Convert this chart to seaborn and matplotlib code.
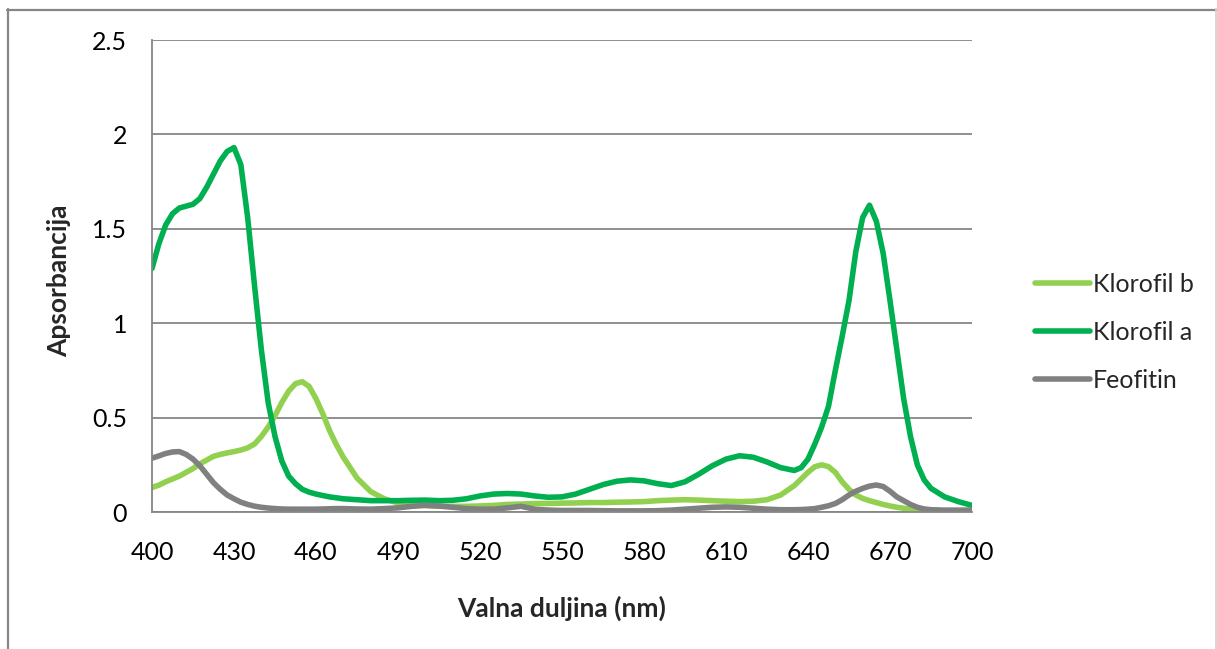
import matplotlib
matplotlib.use("Agg")
import matplotlib.pyplot as plt
from matplotlib.lines import Line2D
import seaborn as sns
import pandas as pd

wavelength = [400, 402.5, 405, 407.5, 410, 412.5, 415, 417.5, 420, 422.5, 425, 427.5, 430, 432.5, 435,
              437.5, 440, 442.5, 445, 447.5, 450, 452.5, 455, 457.5, 460, 462.5, 465, 467.5, 470,
              475, 480, 485, 490, 495, 500, 505, 510, 515, 520, 525, 530, 535, 540, 545, 550,
              555, 560, 565, 570, 575, 580, 585, 590, 595, 600, 605, 610, 615, 620, 625, 630, 635,
              637.5, 640, 642.5, 645, 647.5, 650, 652.5, 655, 657.5, 660, 662.5, 665, 667.5, 670,
              672.5, 675, 677.5, 680, 682.5, 685,
              690, 695, 700]

klorofil_a = [1.29, 1.42, 1.52, 1.58, 1.61, 1.62, 1.63, 1.66, 1.72, 1.79, 1.86, 1.91, 1.93, 1.84, 1.56,
              1.20, 0.86, 0.58, 0.40, 0.27, 0.19, 0.15, 0.12, 0.105, 0.095, 0.087, 0.08, 0.075, 0.07,
              0.065, 0.06, 0.06, 0.06, 0.062, 0.063, 0.06, 0.062, 0.07, 0.085, 0.095, 0.098, 0.095, 0.085, 0.078, 0.08,
              0.095, 0.12, 0.145, 0.163, 0.17, 0.165, 0.15, 0.14, 0.16, 0.20, 0.245, 0.28, 0.298, 0.29, 0.265, 0.235, 0.22,
              0.235, 0.28, 0.36, 0.45, 0.56, 0.75, 0.93, 1.12, 1.38, 1.56, 1.625, 1.54, 1.37, 1.12,
              0.86, 0.60, 0.40, 0.25, 0.17, 0.125,
              0.08, 0.055, 0.035]

klorofil_b = [0.13, 0.142, 0.16, 0.175, 0.19, 0.21, 0.23, 0.255, 0.275, 0.295, 0.305, 0.313, 0.32, 0.328, 0.34,
              0.36, 0.40, 0.45, 0.51, 0.58, 0.64, 0.68, 0.69, 0.665, 0.60, 0.52, 0.43, 0.355, 0.29,
              0.18, 0.108, 0.07, 0.048, 0.04, 0.035, 0.03, 0.03, 0.03, 0.032, 0.035, 0.04, 0.042, 0.045, 0.045, 0.047,
              0.048, 0.05, 0.05, 0.052, 0.053, 0.055, 0.06, 0.063, 0.065, 0.063, 0.06, 0.057, 0.055, 0.057, 0.065, 0.09, 0.14,
              0.175, 0.21, 0.24, 0.25, 0.24, 0.21, 0.16, 0.12, 0.09, 0.072, 0.06, 0.05, 0.04, 0.032,
              0.025, 0.02, 0.014, 0.01, 0.007, 0.005,
              0.004, 0.004, 0.004]

feofitin = [0.285, 0.297, 0.31, 0.318, 0.32, 0.305, 0.28, 0.245, 0.20, 0.155, 0.12, 0.09, 0.07, 0.052, 0.04,
            0.031, 0.025, 0.021, 0.018, 0.016, 0.015, 0.015, 0.015, 0.015, 0.015, 0.016, 0.017, 0.018, 0.018,
            0.016, 0.015, 0.018, 0.022, 0.03, 0.035, 0.032, 0.025, 0.018, 0.015, 0.015, 0.022, 0.03, 0.015, 0.01, 0.008,
            0.008, 0.008, 0.007, 0.006, 0.006, 0.006, 0.007, 0.01, 0.015, 0.02, 0.025, 0.027, 0.025, 0.02, 0.015, 0.012, 0.012,
            0.013, 0.015, 0.018, 0.025, 0.033, 0.045, 0.065, 0.09, 0.11, 0.125, 0.137, 0.143, 0.135, 0.11,
            0.08, 0.06, 0.04, 0.025, 0.016, 0.012,
            0.01, 0.01, 0.01]

series_names = ["Klorofil b", "Klorofil a", "Feofitin"]
series_colors = ["#92D050", "#00B050", "#808080"]
x_ticks = [400, 430, 460, 490, 520, 550, 580, 610, 640, 670, 700]
y_ticks = [0, 0.5, 1, 1.5, 2, 2.5]
y_tick_labels = ["0", "0.5", "1", "1.5", "2", "2.5"]
x_label = "Valna duljina (nm)"
y_label = "Apsorbancija"

frames = []
for name, vals in zip(series_names, [klorofil_b, klorofil_a, feofitin]):
    frames.append(pd.DataFrame({"nm": wavelength, "A": vals, "Serija": name}))
df = pd.concat(frames, ignore_index=True)

sns.set_theme(style="white")
plt.rcParams["font.family"] = ["Lato", "DejaVu Sans"]

W, H = 1217, 649
fig = plt.figure(figsize=(W / 100, H / 100), dpi=100)
ax = fig.add_axes([152 / W, 1 - 512 / H, (972 - 152) / W, (512 - 40) / H])

sns.lineplot(data=df, x="nm", y="A", hue="Serija", hue_order=series_names,
             palette=dict(zip(series_names, series_colors)), linewidth=4.0,
             sort=False, ax=ax, solid_capstyle="round", solid_joinstyle="round")

ax.set_xlim(400, 700)
ax.set_ylim(0, 2.5)
ax.set_xticks(x_ticks)
ax.set_xticklabels([str(v) for v in x_ticks])
ax.set_yticks(y_ticks)
ax.set_yticklabels(y_tick_labels)
ax.tick_params(axis="both", length=0, labelsize=18, colors="#000000")
ax.tick_params(axis="y", pad=18)
ax.tick_params(axis="x", pad=21)
ax.yaxis.grid(True, color="#868686", linewidth=1.3)
ax.xaxis.grid(False)
ax.set_axisbelow(True)
for s in ["top", "right"]:
    ax.spines[s].set_visible(False)
for s in ["left", "bottom"]:
    ax.spines[s].set_color("#868686")
    ax.spines[s].set_linewidth(1.3)

ax.set_xlabel(x_label, fontsize=19, fontweight="bold")
ax.set_ylabel(y_label, fontsize=19, fontweight="bold")
ax.xaxis.set_label_coords(0.5, -0.178)
ax.yaxis.set_label_coords(-0.098, 0.49)

sns.move_legend(ax, "upper left", bbox_to_anchor=(1035 / W, 1 - 273 / H),
                bbox_transform=fig.transFigure, frameon=False, title=None,
                fontsize=18, handlelength=2.2, handletextpad=0.12,
                labelspacing=1.0, borderaxespad=0, borderpad=0)
leg = ax.get_legend()
for h in leg.get_lines():
    h.set_linewidth(4)
    h.set_solid_capstyle("round")

# outer chart border
fig.add_artist(Line2D([7.5 / W, 7.5 / W], [0, 1 - 9 / H], transform=fig.transFigure,
                      color="#868686", linewidth=1.6))
fig.add_artist(Line2D([7 / W, 1], [1 - 9.5 / H, 1 - 9.5 / H], transform=fig.transFigure,
                      color="#868686", linewidth=1.6))
fig.add_artist(Line2D([1215.5 / W, 1215.5 / W], [0, 1 - 9 / H], transform=fig.transFigure,
                      color="#d0d0d0", linewidth=1.2))

fig.savefig("out.png", dpi=100, facecolor="white")
